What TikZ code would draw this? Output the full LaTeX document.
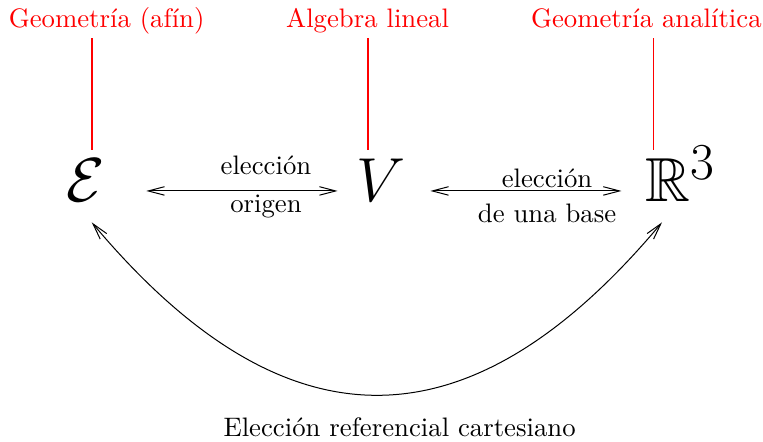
\documentclass[tikz,border=0pt]{standalone}
\usepackage{amssymb}
\usepackage{tikz}
\usetikzlibrary{arrows.meta,positioning,calc}

\begin{document}
\begin{tikzpicture}[
  espacio/.style={inner sep=0pt,text height=8.8pt,text depth=0pt,anchor=base,font=\Huge},
  campo/.style={inner sep=0pt,text depth=0pt,anchor=base,text=red,font=\fontsize{10.7pt}{13pt}\selectfont},
  etiq/.style={inner sep=0pt,anchor=base,font=\fontsize{10.7pt}{13pt}\selectfont},
  enlace/.style={draw=red,line width=0.7pt,shorten <=0.14cm,shorten >=0.42cm},
  flecha/.style={{Straight Barb[length=6.5pt,width=3.4pt]}-{Straight Barb[length=6.5pt,width=3.4pt]},line width=0.4pt}]
  \useasboundingbox (0,0) rectangle (10.73,-6.21);
  % espacios
  \node[espacio] (E) at (1.21,-2.84) {$\mathcal{E}$};
  \node[espacio] (V) at (5.36,-2.84) {$V$};
  \node[espacio,anchor=base west] (R3) at (9.07,-2.84) {$\mathbb{R}^3$};
  % campos
  \node[campo] (geo) at (1.50,-0.39) {Geometría (afín)};
  \node[campo] (alg) at (5.17,-0.39) {Algebra lineal};
  \node[campo] (ana) at (9.09,-0.39) {Geometría analítica};
  \draw[enlace] ([xshift=0.08cm]E.north |- geo.south) -- ([xshift=0.08cm]E.north);
  \draw[enlace] ([xshift=-0.19cm]V.north |- alg.south) -- ([xshift=-0.19cm]V.north);
  \draw[enlace] ([xshift=0.12cm]R3.north west |- ana.south) -- ([xshift=0.12cm]R3.north west);
  % elecciones
  \draw[flecha,shorten <=0.57cm,shorten >=0.26cm] (E) -- (V)
    node[etiq,pos=.64,yshift=0.225cm] {elección}
    node[etiq,pos=.64,yshift=-0.305cm] {origen};
  \draw[flecha,shorten <=0.34cm,shorten >=0.33cm] (V) -- (R3)
    node[etiq,pos=.59,yshift=0.045cm] {elección}
    node[etiq,pos=.59,yshift=-0.445cm] {de una base};
  \draw[flecha] ([shift={(0.08,-0.28)}]E.south) to[out=-50,in=-130,looseness=1.35]
    node[etiq,pos=.5,xshift=0.32cm,yshift=-0.58cm] {Elección referencial cartesiano}
    ([shift={(0.24,-0.28)}]R3.south west);
\end{tikzpicture}
\end{document}
